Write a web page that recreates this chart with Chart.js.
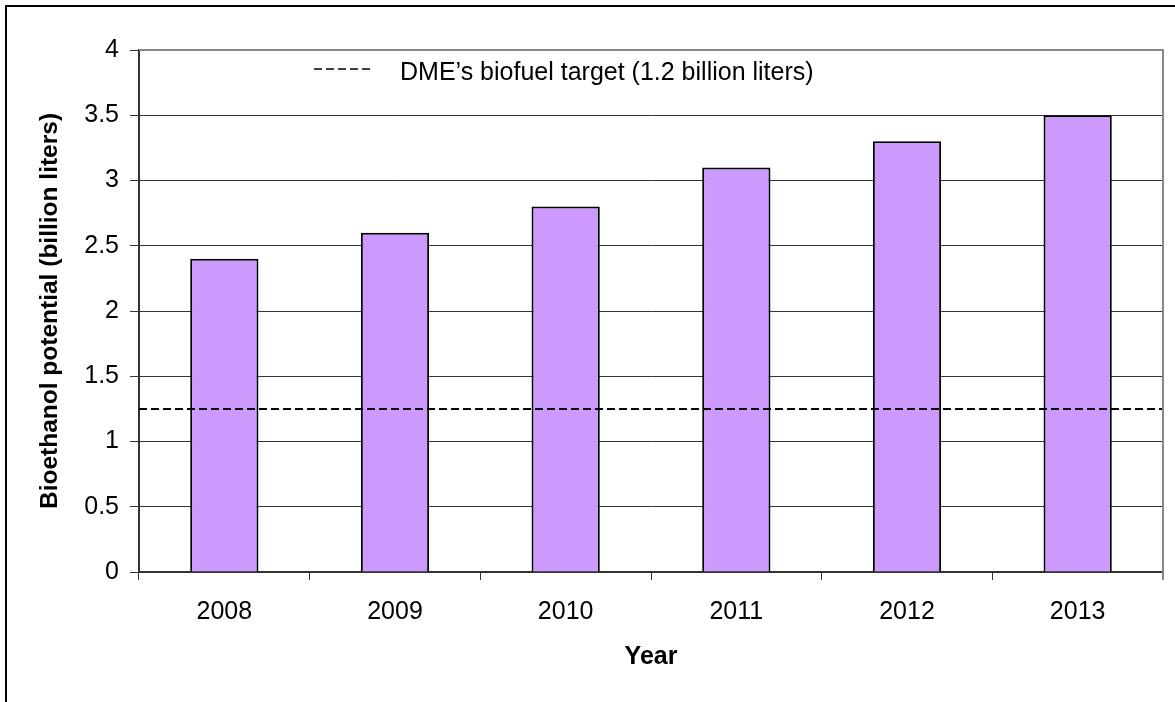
<!DOCTYPE html>
<html>
<head>
<meta charset="utf-8">
<title>Bioethanol potential</title>
<script src="https://cdn.jsdelivr.net/npm/chart.js@4.4.1/dist/chart.umd.min.js"></script>
<style>
  html, body { margin: 0; padding: 0; background: #fff; }
  #wrap { width: 1175px; height: 702px; overflow: hidden; }
</style>
</head>
<body>
<div id="wrap"><canvas id="myChart" width="1175" height="702"></canvas></div>
<script>
"use strict";

// Values
const years = ['2008', '2009', '2010', '2011', '2012', '2013'];
const potential = [2.4, 2.6, 2.8, 3.1, 3.3, 3.5];
const targetLevel = [1.25, 1.25];
const targetSpan = [0, 1];
const yTickLabels = ['0', '0.5', '1', '1.5', '2', '2.5', '3', '3.5', '4'];
const yTitle = 'Bioethanol potential (billion liters)';
const xTitle = 'Year';
const targetLabel = 'DME\u2019s biofuel target (1.2 billion liters)';

const fontFamily = '"Liberation Sans", Arial, Helvetica, sans-serif';
Chart.defaults.font.family = fontFamily;
Chart.defaults.color = '#000';

// Black frame around the picture (only left and top edges are visible)
const outerFrame = {
    id: 'outerFrame',
    beforeDraw(chart) {
        const ctx = chart.ctx;
        ctx.save();
        ctx.fillStyle = '#fff';
        ctx.fillRect(0, 0, chart.width, chart.height);
        ctx.fillStyle = '#000';
        ctx.fillRect(5, 5, 2, chart.height);
        ctx.fillRect(5, 5, chart.width, 2);
        ctx.restore();
    }
};

// Gray border on top and right of the plot area
const plotBorder = {
    id: 'plotBorder',
    afterDraw(chart) {
        const { ctx, chartArea } = chart;
        ctx.save();
        ctx.strokeStyle = '#888';
        ctx.lineWidth = 2;
        ctx.beginPath();
        ctx.moveTo(chartArea.left, chartArea.top);
        ctx.lineTo(chartArea.right, chartArea.top);
        ctx.lineTo(chartArea.right, chartArea.bottom + 8);
        ctx.stroke();
        ctx.restore();
    }
};

// Legend drawn inside the plot area, like the original
const innerLegend = {
    id: 'innerLegend',
    afterDraw(chart) {
        const ds = chart.data.datasets[1];
        const { ctx, chartArea } = chart;
        const x0 = chartArea.left + 175;
        const yLine = chartArea.top + 19;
        ctx.save();
        ctx.strokeStyle = ds.borderColor;
        ctx.lineWidth = 1.5;
        ctx.setLineDash(ds.borderDash);
        ctx.beginPath();
        ctx.moveTo(x0, yLine);
        ctx.lineTo(x0 + 58, yLine);
        ctx.stroke();
        ctx.setLineDash([]);
        ctx.fillStyle = '#000';
        ctx.font = '25px ' + fontFamily;
        ctx.textBaseline = 'alphabetic';
        ctx.fillText(ds.label, x0 + 86, chartArea.top + 30);
        ctx.restore();
    }
};

const ctx = document.getElementById('myChart');

new Chart(ctx, {
    type: 'bar',
    data: {
        labels: years,
        datasets: [{
            type: 'bar',
            label: 'Bioethanol potential',
            data: potential,
            backgroundColor: '#CC99FF',
            borderColor: '#000',
            borderWidth: 2,
            barPercentage: 0.4,
            categoryPercentage: 1,
            grouped: false,
            order: 2
        }, {
            type: 'line',
            label: targetLabel,
            data: targetSpan.map((x, i) => ({ x: x, y: targetLevel[i] })),
            xAxisID: 'x2',
            borderColor: '#000',
            borderWidth: 2,
            borderDash: [8, 4],
            pointRadius: 0,
            fill: false,
            order: 1
        }]
    },
    options: {
        responsive: false,
        devicePixelRatio: 1,
        animation: false,
        layout: { padding: { left: 0, right: 12, top: 50, bottom: 0 } },
        plugins: {
            legend: { display: false },
            tooltip: { enabled: false }
        },
        scales: {
            x: {
                offset: true,
                grid: {
                    offset: true,
                    drawOnChartArea: false,
                    drawTicks: true,
                    tickLength: 8,
                    color: '#333',
                    lineWidth: 1
                },
                border: { color: '#333', width: 2 },
                ticks: { color: '#000', font: { size: 25 }, padding: 17, maxRotation: 0 },
                title: {
                    display: true,
                    text: xTitle,
                    color: '#000',
                    font: { size: 25, weight: 'bold' },
                    padding: { top: 0, bottom: 30 }
                },
                afterFit(scale) { scale.height = 130; }
            },
            x2: {
                type: 'linear',
                display: false,
                offset: false,
                grid: { offset: false },
                min: 0,
                max: 1
            },
            y: {
                min: 0,
                max: 4,
                ticks: {
                    stepSize: 0.5,
                    color: '#000',
                    font: { size: 25 },
                    padding: 11,
                    callback: (value, index) => yTickLabels[index]
                },
                grid: { color: '#333', lineWidth: 1, tickLength: 9 },
                border: { color: '#333', width: 2 },
                title: {
                    display: true,
                    text: yTitle,
                    color: '#000',
                    font: { size: 24.5, weight: 'bold' },
                    padding: { top: 36, bottom: 0 }
                },
                afterFit(scale) { scale.width = 139; }
            }
        }
    },
    plugins: [outerFrame, plotBorder, innerLegend]
});
</script>
</body>
</html>
